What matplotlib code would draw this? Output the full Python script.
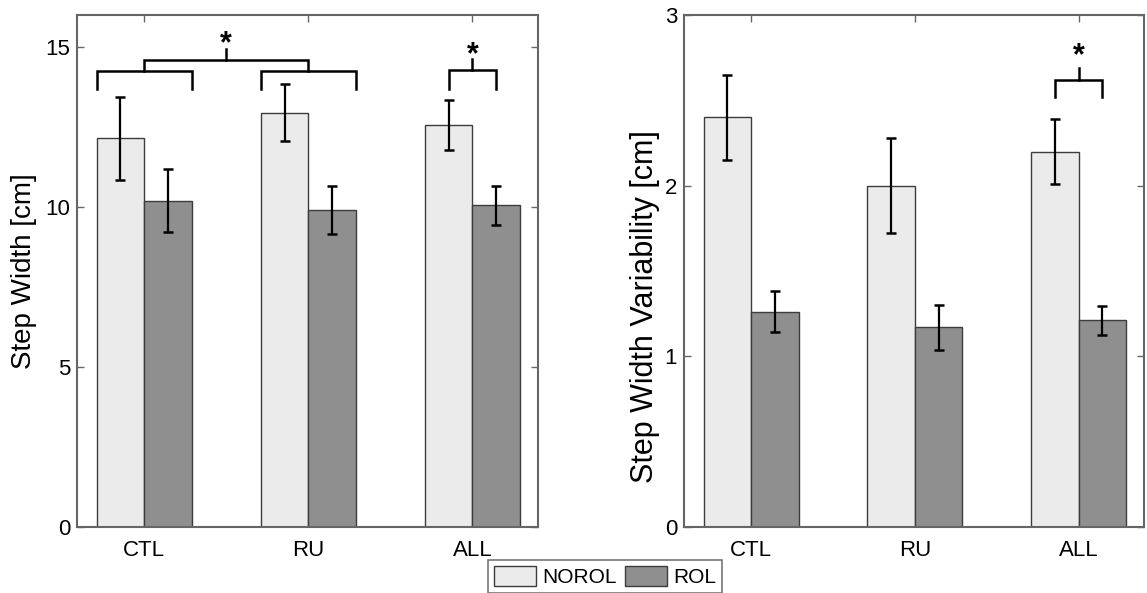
import numpy as np
import matplotlib.pyplot as plt
plt.rcParams['font.family'] = ['Liberation Sans', 'DejaVu Sans']

# data
groups = ['CTL', 'RU', 'ALL']
width_norol = [12.15, 12.95, 12.55]
width_norol_err = [1.3, 0.88, 0.78]
width_rol = [10.2, 9.9, 10.05]
width_rol_err = [0.98, 0.75, 0.6]

var_norol = [2.4, 2.0, 2.2]
var_norol_err = [0.25, 0.28, 0.19]
var_rol = [1.26, 1.17, 1.21]
var_rol_err = [0.12, 0.13, 0.085]

c_norol = '#ebebeb'
c_rol = '#8f8f8f'
c_edge = '#3c3c3c'
c_spine = '#666666'

W, H = 1147, 593
fig = plt.figure(figsize=(W / 100, H / 100), dpi=100)
ax1 = fig.add_axes([77 / W, 1 - 527 / H, (538 - 77) / W, (527 - 15) / H])
ax2 = fig.add_axes([684 / W, 1 - 527 / H, (1144 - 684) / W, (527 - 15) / H])

x = np.arange(1, len(groups) + 1)
bw = 0.29


def draw(ax, a, a_err, b, b_err, ylim, yticks, ylabel, lsize):
    ax.bar(x - bw / 2, a, bw, color=c_norol, edgecolor=c_edge, linewidth=1, label='NOROL', zorder=2)
    ax.bar(x + bw / 2, b, bw, color=c_rol, edgecolor=c_edge, linewidth=1, label='ROL', zorder=2)
    ax.errorbar(x - bw / 2, a, yerr=a_err, fmt='none', ecolor='black', elinewidth=1.6,
                capsize=3.5, capthick=1.8, zorder=3)
    ax.errorbar(x + bw / 2, b, yerr=b_err, fmt='none', ecolor='black', elinewidth=1.6,
                capsize=3.5, capthick=1.8, zorder=3)
    ax.set_xlim(0.59, 3.40)
    ax.set_ylim(*ylim)
    ax.set_xticks(x)
    ax.set_xticklabels(groups)
    ax.set_yticks(yticks)
    ax.set_ylabel(ylabel, fontsize=lsize, labelpad=6)
    ax.tick_params(direction='in', length=5, width=1, color=c_spine, labelsize=16,
                   top=True, right=True, pad=5)
    ax.tick_params(axis='x', pad=9)
    for s in ax.spines.values():
        s.set_color(c_spine)
        s.set_linewidth(1.5)


def bracket(ax, x0, x1, ytop, ybot, lw=1.8):
    ax.plot([x0, x0, x1, x1], [ybot, ytop, ytop, ybot], color='black', lw=lw,
            solid_joinstyle='miter', zorder=4)


draw(ax1, width_norol, width_norol_err, width_rol, width_rol_err, (0, 16), [0, 5, 10, 15],
     'Step Width [cm]', 20)
draw(ax2, var_norol, var_norol_err, var_rol, var_rol_err, (0, 3), [0, 1, 2, 3],
     'Step Width Variability [cm]', 22)
ax2.yaxis.set_label_coords(-0.052, 0.43)

# significance brackets, left panel
bracket(ax1, 1 - bw, 1 + bw, 14.25, 13.68)
bracket(ax1, 2 - bw, 2 + bw, 14.25, 13.68)
bracket(ax1, 1.0, 2.0, 14.6, 14.25)
ax1.plot([1.5, 1.5], [14.6, 14.94], color='black', lw=1.8, zorder=4)
ax1.text(1.5, 15.1, '*', ha='center', va='center', fontsize=22, fontweight='bold')
bracket(ax1, 3 - bw / 2, 3 + bw / 2, 14.28, 13.68)
ax1.plot([3, 3], [14.28, 14.62], color='black', lw=1.8, zorder=4)
ax1.text(3, 14.75, '*', ha='center', va='center', fontsize=22, fontweight='bold')

# right panel
bracket(ax2, 3 - bw / 2, 3 + bw / 2, 2.62, 2.52)
ax2.plot([3, 3], [2.62, 2.69], color='black', lw=1.8, zorder=4)
ax2.text(3, 2.76, '*', ha='center', va='center', fontsize=22, fontweight='bold')

h, l = ax1.get_legend_handles_labels()
leg = fig.legend(h, l, loc='center', bbox_to_anchor=(605 / W, 1 - 576.5 / H), ncol=2,
                 fontsize=15, frameon=True, fancybox=False, handlelength=2.0, handleheight=1.1,
                 handletextpad=0.3, columnspacing=0.4, borderpad=0.3, borderaxespad=0)
leg.get_frame().set_edgecolor('#555555')
leg.get_frame().set_linewidth(1.2)

fig.savefig('out.png', dpi=100)
